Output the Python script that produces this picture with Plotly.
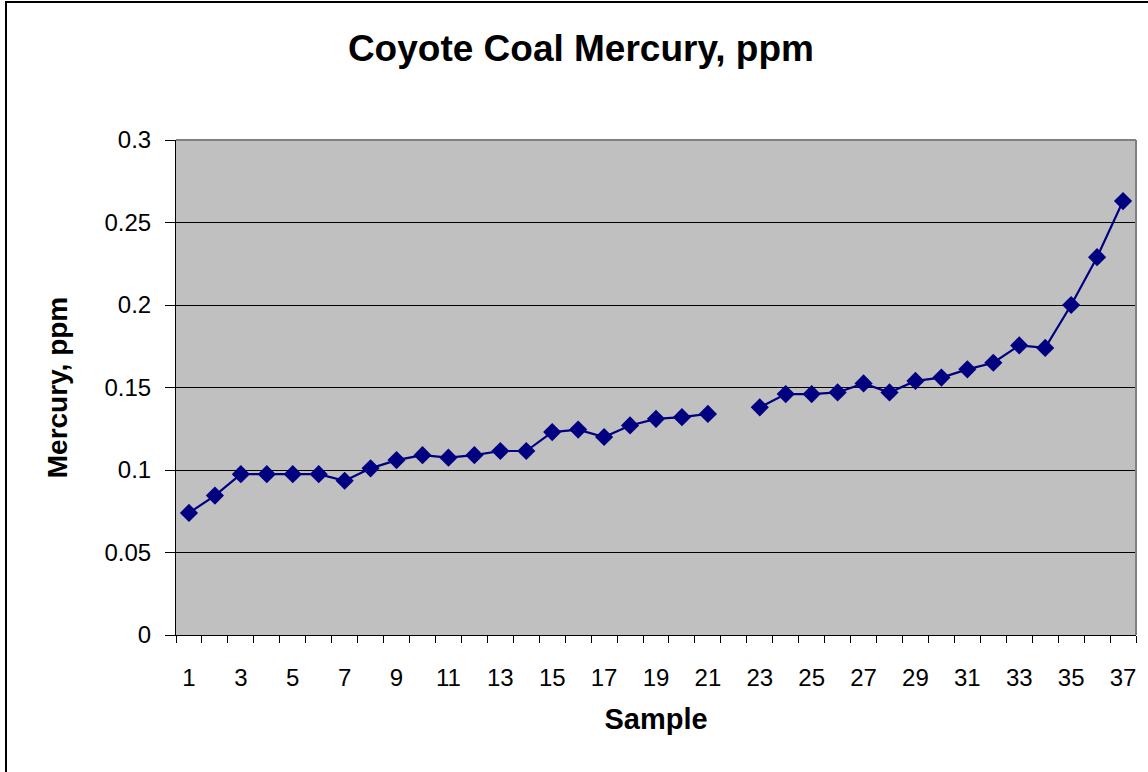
import plotly.graph_objects as go

samples = list(range(1, 38))
mercury_ppm = [0.074, 0.0845, 0.0975, 0.0975, 0.0975, 0.0975, 0.0935, 0.101, 0.106, 0.109,
               0.1075, 0.109, 0.1115, 0.1115, 0.123, 0.1245, 0.120, 0.127, 0.131, 0.132,
               0.134, None, 0.138, 0.146, 0.146, 0.147, 0.1525, 0.147, 0.154, 0.156,
               0.161, 0.165, 0.1755, 0.174, 0.200, 0.229, 0.263]
x_tick_labels = [str(v) for v in range(1, 38, 2)]
y_tick_values = [0, 0.05, 0.1, 0.15, 0.2, 0.25, 0.3]

NAVY = "#000080"
FONT = "Liberation Sans, Arial, sans-serif"

fig = go.Figure()
fig.add_trace(go.Scatter(
    x=samples, y=mercury_ppm, mode="lines+markers",
    line=dict(color=NAVY, width=2.2),
    marker=dict(symbol="diamond", size=14, color=NAVY),
    connectgaps=False, showlegend=False,
))

W, H = 1148, 772
L, R, T, B = 176, 12, 140, 137
pw, ph = W - L - R, H - T - B

def px_x(p):
    return (p - L) / pw

def px_y(p):
    return (H - B - p) / ph

fig.update_layout(
    width=W, height=H,
    margin=dict(l=L, r=R, t=T, b=B),
    paper_bgcolor="white", plot_bgcolor="#c0c0c0",
    font=dict(family=FONT, color="black", size=24),
    title=dict(text="<b>Coyote Coal Mercury, ppm</b>", x=0.506, xanchor="center",
               y=1 - 48 / H, yanchor="middle", xref="container", yref="container",
               font=dict(size=37, family=FONT, color="black")),
    xaxis=dict(
        range=[0.5, 37.5], tickmode="array",
        tickvals=list(range(1, 38, 2)), ticktext=x_tick_labels,
        ticks="", showgrid=False, zeroline=False,
        showline=True, linecolor="black", linewidth=1,
        ticklabelstandoff=21,
        tickfont=dict(size=24, family=FONT, color="black"),
        minor=dict(tickmode="array", tickvals=[i + 0.5 for i in range(0, 38)],
                   ticks="outside", ticklen=7, tickcolor="black", tickwidth=1, showgrid=False),
        title=dict(text="<b>Sample</b>", font=dict(size=29, family=FONT, color="black"), standoff=18),
    ),
    yaxis=dict(
        range=[0, 0.3], tickmode="array", tickvals=y_tick_values,
        ticktext=["0", "0.05", "0.1", "0.15", "0.2", "0.25", "0.3"],
        ticks="outside", ticklen=10, tickcolor="black", tickwidth=1,
        ticklabelstandoff=9,
        showgrid=True, gridcolor="black", gridwidth=1, zeroline=False,
        showline=True, linecolor="black", linewidth=1,
        tickfont=dict(size=24, family=FONT, color="black"),
        title=dict(text="<b>Mercury, ppm</b>", font=dict(size=28, family=FONT, color="black"), standoff=28),
    ),
    shapes=[
        dict(type="line", xref="paper", yref="paper", x0=0, x1=1, y0=1, y1=1,
             line=dict(color="#808080", width=2), layer="above"),
        dict(type="line", xref="paper", yref="paper", x0=1, x1=1, y0=0, y1=1,
             line=dict(color="#808080", width=2), layer="above"),
        dict(type="rect", xref="paper", yref="paper",
             x0=px_x(6), x1=px_x(1160), y0=px_y(790), y1=px_y(2),
             line=dict(color="black", width=2), fillcolor="rgba(0,0,0,0)", layer="above"),
    ],
)

fig.write_html("out.html", config={"displayModeBar": False},
               post_script="document.body.style.margin='0';")
